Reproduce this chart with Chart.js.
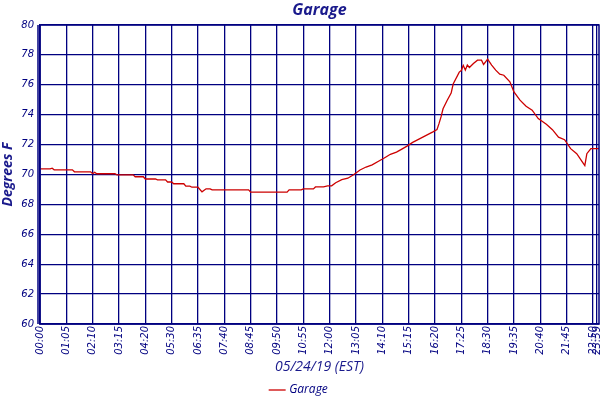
<!DOCTYPE html>
<html>
<head>
<meta charset="utf-8">
<script src="https://cdn.jsdelivr.net/npm/chart.js@4"></script>
<style>
  html, body { margin: 0; padding: 0; background: #fff; }
  #wrap { width: 600px; height: 400px; }
</style>
</head>
<body>
<div id="wrap"><canvas id="chart" width="600" height="400"></canvas></div>
<script>
// 表示するデータ（サンプル番号と温度）
const sampleIdx = [0, 5, 6, 7, 16, 17, 25, 26, 27, 28, 37, 38, 46, 47, 51, 52, 57, 58, 62, 63,
    65, 66, 71, 72, 74, 75, 78, 80, 82, 84, 85, 103, 104, 122, 123, 129, 130, 135, 136, 140,
    142, 144, 146, 149, 152, 155, 158, 161, 164, 168, 170, 173, 176, 178, 181, 184, 189, 194, 196, 197,
    198, 199, 201, 203, 204, 207, 208, 209, 210, 211, 212, 214, 216, 218, 219, 220, 221, 223, 225, 227,
    229, 232, 234, 237, 240, 243, 246, 250, 253, 256, 259, 262, 265, 268, 269, 270, 272, 276];
const tempF = [70.38, 70.38, 70.42, 70.31, 70.31, 70.18, 70.18, 70.05, 70.15, 70.05, 70.05, 69.98, 69.98, 69.85, 69.85, 69.7, 69.7, 69.64, 69.64, 69.5,
    69.5, 69.38, 69.38, 69.22, 69.22, 69.15, 69.15, 68.84, 69.04, 69.04, 68.97, 68.97, 68.82, 68.82, 68.97, 68.97, 69.04, 69.04, 69.17, 69.17,
    69.24, 69.24, 69.45, 69.65, 69.75, 70.0, 70.3, 70.5, 70.65, 70.95, 71.1, 71.35, 71.5, 71.65, 71.88, 72.15, 72.5, 72.85, 73.0, 73.4,
    73.85, 74.4, 74.95, 75.45, 76.05, 76.85, 76.95, 77.3, 76.98, 77.32, 77.16, 77.43, 77.65, 77.65, 77.36, 77.54, 77.72, 77.32, 76.98, 76.71,
    76.64, 76.2, 75.52, 74.97, 74.56, 74.3, 73.74, 73.36, 73.0, 72.5, 72.33, 71.73, 71.39, 70.8, 70.6, 71.39, 71.73, 71.73];

// X軸の目盛り（サンプル番号とラベル）
const tickIdx = [0, 13, 26, 39, 52, 65, 78, 91, 104, 117, 130, 143, 156, 169, 182, 195, 208, 221, 234, 247, 260, 273, 275];
const tickLabels = ['00:00', '01:05', '02:10', '03:15', '04:20', '05:30', '06:35', '07:40', '08:45', '09:50', '10:55', '12:00',
    '13:05', '14:10', '15:15', '16:20', '17:25', '18:30', '19:35', '20:40', '21:45', '22:50', '23:59'];

// Y軸の範囲
const yMin = 60;
const yMax = 80;
const yStep = 2;

const navy = '#000080';
const lineRed = '#cc0000';

// タイトルをプロット領域の中央に描画し、枠線を引くプラグイン
const framePlugin = {
    id: 'frame',
    afterDraw(chart) {
        const { ctx, chartArea } = chart;
        ctx.save();
        ctx.strokeStyle = navy;
        ctx.lineWidth = 1.5;
        ctx.strokeRect(chartArea.left, chartArea.top, chartArea.right - chartArea.left, chartArea.bottom - chartArea.top);
        ctx.beginPath();
        ctx.moveTo(chartArea.left - 2, chartArea.top);
        ctx.lineTo(chartArea.left - 2, chartArea.bottom);
        ctx.stroke();
        ctx.fillStyle = '#1a1a8c';
        ctx.font = 'italic bold 16px "Open Sans"';
        ctx.textAlign = 'center';
        ctx.textBaseline = 'middle';
        ctx.fillText('Garage', (chartArea.left + chartArea.right) / 2, 10);
        ctx.restore();
    }
};

const points = sampleIdx.map((x, i) => ({ x: x, y: tempF[i] }));

new Chart(document.getElementById('chart'), {
    type: 'line',
    data: {
        datasets: [{
            label: 'Garage',
            data: points,
            borderColor: lineRed,
            backgroundColor: lineRed,
            borderWidth: 1.3,
            pointRadius: 0,
            tension: 0
        }]
    },
    options: {
        responsive: false,
        animation: false,
        layout: { padding: { top: 25, right: 1, left: 0, bottom: -6 } },
        plugins: {
            title: { display: false },
            tooltip: { enabled: false },
            legend: {
                position: 'bottom',
                labels: {
                    usePointStyle: true,
                    pointStyle: 'line',
                    boxWidth: 14,
                    color: navy,
                    padding: 2,
                    font: { family: '"Open Sans"', style: 'italic', size: 12 }
                }
            }
        },
        scales: {
            x: {
                type: 'linear',
                min: 0,
                max: 276,
                afterBuildTicks: (scale) => {
                    scale.ticks = tickIdx.map(v => ({ value: v }));
                },
                afterFit: (scale) => {
                    scale.height = 58;
                    scale.paddingLeft = 0;
                    scale.paddingRight = 0;
                },
                ticks: {
                    autoSkip: false,
                    minRotation: 90,
                    maxRotation: 90,
                    padding: 2,
                    color: navy,
                    font: { family: '"DejaVu Sans"', style: 'italic', size: 10 },
                    callback: (value) => {
                        const i = tickIdx.indexOf(value);
                        return i >= 0 ? tickLabels[i] : '';
                    }
                },
                grid: { color: navy, lineWidth: 1.3, drawTicks: false },
                border: { color: navy, width: 1.5 },
                title: {
                    display: true,
                    text: '05/24/19 (EST)',
                    color: '#1a1a8c',
                    padding: { top: 0, bottom: 7 },
                    font: { family: '"Open Sans"', style: 'italic', size: 14 }
                }
            },
            y: {
                min: yMin,
                max: yMax,
                afterFit: (scale) => { scale.width = 40; },
                ticks: {
                    stepSize: yStep,
                    padding: 6,
                    color: navy,
                    font: { family: '"DejaVu Sans"', style: 'italic', size: 10 }
                },
                grid: { color: navy, lineWidth: 1.3, drawTicks: false },
                border: { color: navy, width: 1.5 },
                title: {
                    display: true,
                    text: 'Degrees F',
                    color: '#1a1a8c',
                    padding: 0,
                    font: { family: '"Open Sans"', style: 'italic', weight: 'bold', size: 14 }
                }
            }
        }
    },
    plugins: [framePlugin]
});
</script>
</body>
</html>
